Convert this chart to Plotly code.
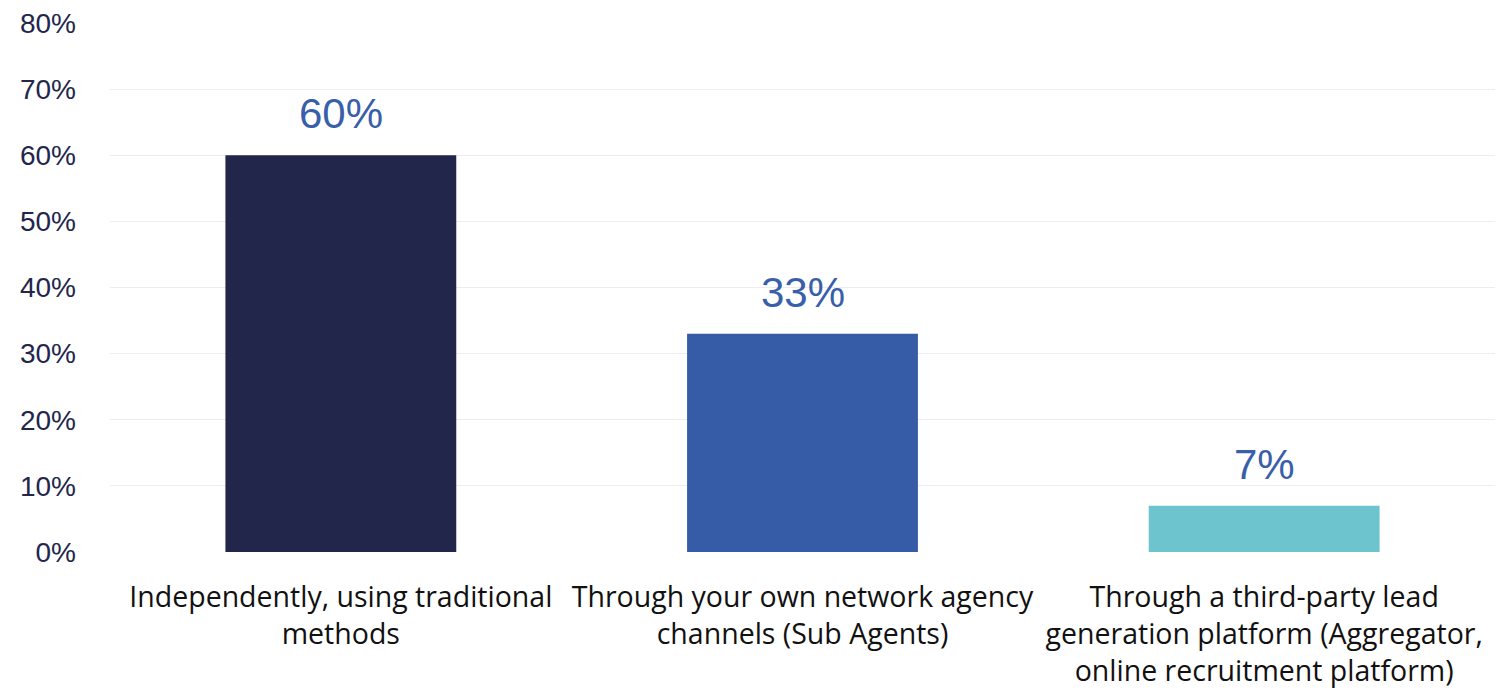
import plotly.graph_objects as go

# Survey responses: how recruitment leads are sourced
categories = [
    "Independently, using traditional<br>methods",
    "Through your own network agency<br>channels (Sub Agents)",
    "Through a third-party lead<br>generation platform (Aggregator,<br>online recruitment platform)",
]
shares = [60, 33, 7]
bar_colors = ["#22264B", "#365CA8", "#6EC4CE"]
y_ticks = [0, 10, 20, 30, 40, 50, 60, 70, 80]
y_tick_labels = [f"{v}%" for v in y_ticks]

fig = go.Figure(
    go.Bar(
        x=categories,
        y=shares,
        marker=dict(color=bar_colors, line=dict(width=0)),
        hoverinfo="skip",
    )
)

# Value labels sitting above each bar
for cat, val in zip(categories, shares):
    fig.add_annotation(
        x=cat,
        y=val,
        text=f"{val}%",
        showarrow=False,
        yanchor="bottom",
        yshift=16,
        font=dict(family="Liberation Sans, Arial, sans-serif", size=42, color="#3A5FAA"),
    )

fig.update_layout(
    width=1509,
    height=692,
    margin=dict(l=110, r=14, t=23, b=140),
    paper_bgcolor="white",
    plot_bgcolor="white",
    bargap=0.5,
    showlegend=False,
)

fig.update_yaxes(
    range=[0, 80],
    tickvals=y_ticks,
    ticktext=y_tick_labels,
    showgrid=True,
    gridcolor="#EDEDED",
    gridwidth=1,
    zeroline=False,
    showline=False,
    ticks="",
    automargin=False,
    ticklabelstandoff=33,
    tickfont=dict(family="Liberation Sans, Arial, sans-serif", size=28, color="#22264B"),
)

fig.update_xaxes(
    showgrid=False,
    showline=False,
    ticks="",
    automargin=False,
    ticklabelstandoff=25,
    tickfont=dict(family="Open Sans, sans-serif", size=28.5, color="#111111"),
)

fig.write_html("out.html")
